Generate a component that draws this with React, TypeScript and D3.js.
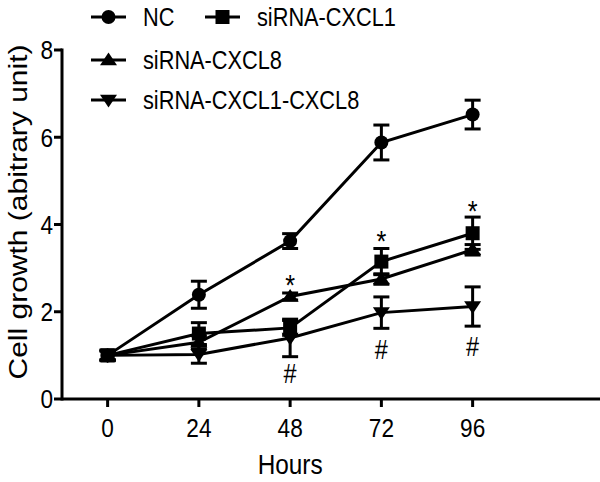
import React from "react";
import * as d3 from "d3";

const hours = [0, 24, 48, 72, 96];
const xTicks = [0, 24, 48, 72, 96];
const yTicks = [0, 2, 4, 6, 8];

const ncMean = [1.0, 2.39, 3.62, 5.88, 6.52];
const ncErr = [0.12, 0.31, 0.17, 0.4, 0.33];
const cxcl1Mean = [1.0, 1.5, 1.63, 3.15, 3.8];
const cxcl1Err = [0.12, 0.25, 0.17, 0.3, 0.37];
const cxcl8Mean = [1.0, 1.3, 2.35, 2.75, 3.42];
const cxcl8Err = [0.1, 0.15, 0.08, 0.12, 0.12];
const dualMean = [1.0, 1.02, 1.4, 1.98, 2.12];
const dualErr = [0.1, 0.2, 0.43, 0.36, 0.45];

const starHours = [48, 72, 96];
const starValues = [2.85, 3.85, 4.55];
const hashHours = [48, 72, 96];
const hashValues = [0.6, 1.15, 1.2];

const seriesNames = ["NC", "siRNA-CXCL1", "siRNA-CXCL8", "siRNA-CXCL1-CXCL8"];
const seriesShapes = ["circle", "square", "triangle", "down"];

const FONT = "'Liberation Sans', Arial, sans-serif";
const SX = 0.87;

function T({
  x,
  y,
  size,
  anchor = "start",
  dy = "0",
  children,
}: {
  x: number;
  y: number;
  size: number;
  anchor?: string;
  dy?: string;
  children: React.ReactNode;
}) {
  return (
    <g transform={`translate(${x},${y}) scale(${SX},1)`}>
      <text x={0} y={0} dy={dy} textAnchor={anchor as any} fontSize={size}>
        {children}
      </text>
    </g>
  );
}

function Marker({ shape, x, y }: { shape: string; x: number; y: number }) {
  const s = 7.5;
  if (shape === "circle") return <circle cx={x} cy={y} r={7} fill="#000" />;
  if (shape === "square")
    return <rect x={x - 7} y={y - 7} width={14} height={14} fill="#000" />;
  if (shape === "triangle")
    return (
      <path d={`M${x},${y - s} L${x + s + 1},${y + s * 0.7} L${x - s - 1},${y + s * 0.7} Z`} fill="#000" />
    );
  return (
    <path d={`M${x},${y + s} L${x + s + 1},${y - s * 0.7} L${x - s - 1},${y - s * 0.7} Z`} fill="#000" />
  );
}

export default function App() {
  const width = 600;
  const height = 482;
  const x = d3.scaleLinear().domain([-12, 129.5]).range([62, 600]);
  const y = d3.scaleLinear().domain([0, 8]).range([399, 50]);
  const line = d3
    .line<[number, number]>()
    .x((d) => x(d[0]))
    .y((d) => y(d[1]));

  const series = [
    { mean: ncMean, err: ncErr },
    { mean: cxcl1Mean, err: cxcl1Err },
    { mean: cxcl8Mean, err: cxcl8Err },
    { mean: dualMean, err: dualErr },
  ];

  const legendPos = [
    { lx: 91, ly: 17 },
    { lx: 205, ly: 17 },
    { lx: 91, ly: 60 },
    { lx: 91, ly: 100 },
  ];

  return (
    <svg
      width={width}
      height={height}
      style={{ position: "absolute", left: 0, top: 0, background: "#fff" }}
      fontFamily={FONT}
    >
      <rect width={width} height={height} fill="#fff" />
      {/* axes */}
      <line x1={x(-12)} x2={600} y1={y(0)} y2={y(0)} stroke="#000" strokeWidth={3} />
      <line x1={x(-12)} x2={x(-12)} y1={y(0) + 1.5} y2={y(8) - 1.5} stroke="#000" strokeWidth={3} />
      {yTicks.map((t) => (
        <g key={"y" + t}>
          <line x1={54} x2={62} y1={y(t)} y2={y(t)} stroke="#000" strokeWidth={3} />
          <T x={53} y={y(t)} dy="0.36em" anchor="end" size={26}>
            {t}
          </T>
        </g>
      ))}
      {xTicks.map((t) => (
        <g key={"x" + t}>
          <line x1={x(t)} x2={x(t)} y1={y(0)} y2={y(0) + 8} stroke="#000" strokeWidth={3} />
          <T x={x(t)} y={437} anchor="middle" size={26}>
            {t}
          </T>
        </g>
      ))}
      <T x={x(48)} y={474} anchor="middle" size={28}>
        Hours
      </T>
      <g transform={`translate(27,${212}) scale(${SX},1) rotate(-90)`}>
        <text x={0} y={0} textAnchor="middle" fontSize={30}>
          Cell growth (abitrary unit)
        </text>
      </g>

      {/* series */}
      {series.map((s, i) => {
        const pts = hours.map((h, j) => [h, s.mean[j]] as [number, number]);
        return (
          <g key={"s" + i}>
            <path d={line(pts) || ""} fill="none" stroke="#000" strokeWidth={3} />
            {hours.map((h, j) => {
              const cx = x(h);
              const top = y(s.mean[j] + s.err[j]);
              const bot = y(s.mean[j] - s.err[j]);
              return (
                <g key={j}>
                  <line x1={cx} x2={cx} y1={top} y2={bot} stroke="#000" strokeWidth={3} />
                  <line x1={cx - 8} x2={cx + 8} y1={top} y2={top} stroke="#000" strokeWidth={3} />
                  <line x1={cx - 8} x2={cx + 8} y1={bot} y2={bot} stroke="#000" strokeWidth={3} />
                  <Marker shape={seriesShapes[i]} x={cx} y={y(s.mean[j])} />
                </g>
              );
            })}
          </g>
        );
      })}

      {starHours.map((h, i) => (
        <T key={"st" + i} x={x(h)} y={y(starValues[i])} dy="0.7em" anchor="middle" size={29}>
          *
        </T>
      ))}
      {hashHours.map((h, i) => (
        <T key={"h" + i} x={x(h)} y={y(hashValues[i])} dy="0.36em" anchor="middle" size={27}>
          #
        </T>
      ))}

      {/* legend */}
      {seriesNames.map((n, i) => {
        const p = legendPos[i];
        return (
          <g key={"l" + i}>
            <line x1={p.lx} x2={p.lx + 35} y1={p.ly} y2={p.ly} stroke="#000" strokeWidth={3} />
            <Marker shape={seriesShapes[i]} x={p.lx + 17.5} y={p.ly} />
            <T x={p.lx + 52} y={p.ly} dy="0.36em" size={25}>
              {n}
            </T>
          </g>
        );
      })}
    </svg>
  );
}
